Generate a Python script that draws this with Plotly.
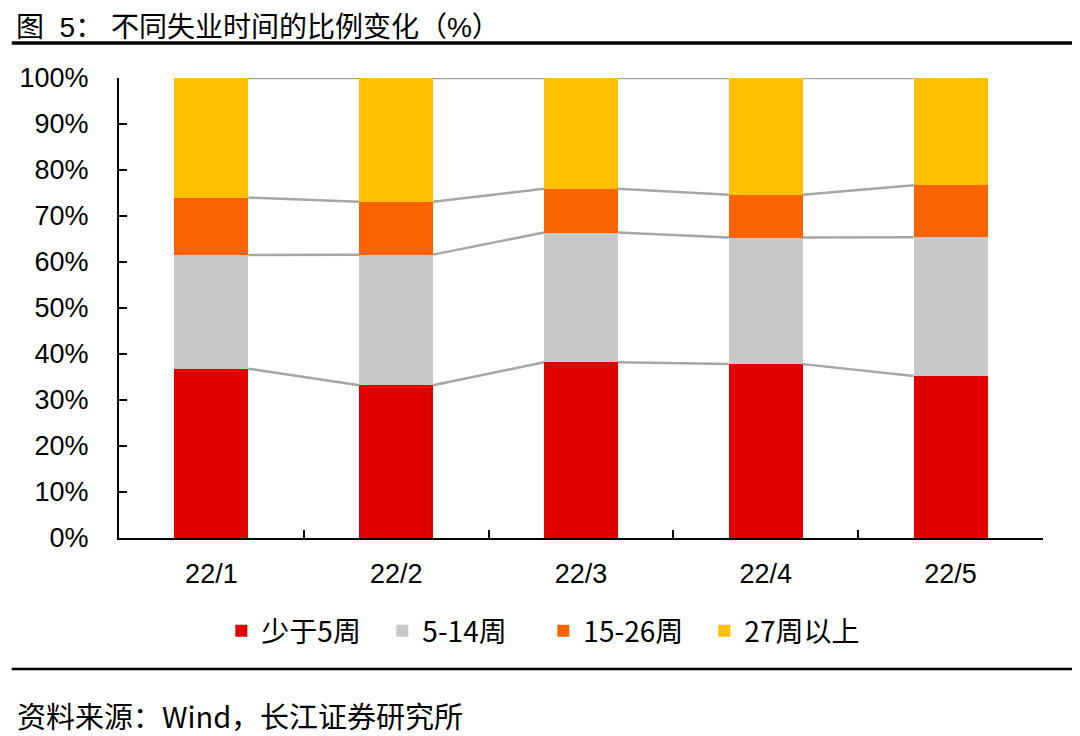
import plotly.graph_objects as go
import numpy as np

categories = ["22/1", "22/2", "22/3", "22/4", "22/5"]
series_names = ["少于5周", "5-14周", "15-26周", "27周以上"]
lt5 = [36.8, 33.2, 38.2, 37.8, 35.2]
w5_14 = [24.7, 28.4, 28.2, 27.5, 30.2]
w15_26 = [12.5, 11.5, 9.5, 9.3, 11.3]
w27p = [26.0, 26.9, 24.1, 25.4, 23.3]
y_ticks = [0, 10, 20, 30, 40, 50, 60, 70, 80, 90, 100]

colors = ["#E00000", "#C8C8C8", "#FA6400", "#FFC000"]
series = [lt5, w5_14, w15_26, w27p]
BAR_W = 0.4

# figure pixel geometry
W, H = 1072, 728
L, R, T, B = 105, 1035, 70, 530
PW, PH = R - L, B - T


def px_x(fx):
    return (fx - L) / PW


def px_y(fy):
    return (B - fy) / PH


fig = go.Figure()
xpos = np.arange(len(categories))
for name, vals, col in zip(series_names, series, colors):
    fig.add_trace(go.Bar(
        x=xpos, y=np.array(vals) / 100.0, name=name, width=BAR_W,
        marker=dict(color=col, line=dict(width=0)),
    ))

# connector lines between stacked segment tops
cum = np.cumsum(np.array(series), axis=0) / 100.0
for k in range(cum.shape[0]):
    xs, ys = [], []
    for i in range(len(categories) - 1):
        xs += [i + BAR_W / 2, i + 1 - BAR_W / 2, None]
        ys += [cum[k][i], cum[k][i + 1], None]
    fig.add_trace(go.Scatter(x=xs, y=ys, mode="lines",
                             line=dict(color="#A6A6A6", width=2.5),
                             showlegend=False, hoverinfo="skip"))

# invisible trace to carry the category label axis
fig.add_trace(go.Scatter(x=xpos, y=[None] * len(xpos), xaxis="x2",
                         showlegend=False, hoverinfo="skip", mode="markers"))

fig.update_layout(
    width=W, height=H,
    barmode="stack",
    paper_bgcolor="white", plot_bgcolor="white",
    margin=dict(l=L, r=W - R, t=T, b=H - B),
    font=dict(family="Liberation Sans, Arial", color="black", size=26),
    xaxis=dict(range=[-0.5, len(categories) - 0.5],
               tickvals=list(np.arange(len(categories) + 1) - 0.5),
               ticks="inside", ticklen=8, tickwidth=2, tickcolor="black",
               showticklabels=False, showgrid=False, zeroline=False,
               showline=True, linecolor="black", linewidth=2),
    xaxis2=dict(range=[-0.5, len(categories) - 0.5], overlaying="x",
                anchor="y", side="bottom",
                tickvals=list(xpos), ticktext=categories, ticks="",
                showgrid=False, zeroline=False, showline=False,
                tickfont=dict(size=27, family="Liberation Sans, Arial"),
                ticklabelstandoff=17),
    yaxis=dict(range=[0, 1], tickvals=[v / 100 for v in y_ticks],
               tickformat=".0%", ticks="inside", ticklen=8, tickwidth=2,
               tickcolor="black", showgrid=False, zeroline=False,
               showline=True, linecolor="black", linewidth=2,
               tickfont=dict(size=27, family="Liberation Sans, Arial"),
               ticklabelstandoff=23),
    legend=dict(orientation="h", x=px_x(208), xanchor="left",
                y=px_y(623), yanchor="middle", traceorder="normal",
                font=dict(size=28, family="Noto Sans CJK SC"),
                itemwidth=30, entrywidth=116, entrywidthmode="pixels"),
    showlegend=True,
)

fig.add_annotation(text="图  5： 不同失业时间的比例变化（%）", xref="paper", yref="paper",
                   x=px_x(0), y=px_y(19), xanchor="left",
                   yanchor="middle", showarrow=False, borderpad=0,
                   font=dict(size=28, family="Liberation Sans, Noto Sans CJK SC",
                             color="black"))
fig.add_annotation(text="资料来源：Wind，长江证券研究所", xref="paper", yref="paper",
                   x=px_x(0), y=px_y(707), xanchor="left",
                   yanchor="middle", showarrow=False,
                   font=dict(size=29, family="Noto Sans CJK SC", color="black"))
fig.add_shape(type="line", xref="paper", yref="paper",
              x0=px_x(-3), x1=px_x(W), y0=px_y(35), y1=px_y(35),
              line=dict(color="black", width=3.5))
fig.add_shape(type="line", xref="paper", yref="paper",
              x0=px_x(-3), x1=px_x(W), y0=px_y(661), y1=px_y(661),
              line=dict(color="black", width=2.5))

fig.write_html("out.html")
